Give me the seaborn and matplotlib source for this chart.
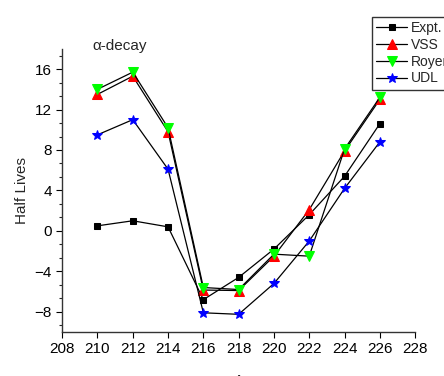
import pandas as pd
import matplotlib
matplotlib.use("Agg")
import matplotlib.pyplot as plt
import seaborn as sns
from matplotlib.ticker import MultipleLocator, AutoMinorLocator

# mass numbers
A = [210, 212, 214, 216, 218, 220, 222, 224, 226]

# log half lives
expt = [0.5, 1.0, 0.4, -6.8, -4.6, -1.8, 1.6, 5.4, 10.6]
vss = [13.5, 15.3, 9.8, -5.85, -5.9, -2.5, 2.1, 7.9, 13.0]
royer = [14.0, 15.7, 10.2, -5.6, -5.8, -2.3, -2.5, 8.1, 13.2]
udl = [9.5, 11.0, 6.1, -8.1, -8.25, -5.2, -1.0, 4.2, 8.8]

series = [
    ("Expt.", expt, "s", "black", 5),
    ("VSS", vss, "^", "red", 6.5),
    ("Royer", royer, "v", "#00ff00", 6.5),
    ("UDL", udl, "*", "blue", 7),
]

sns.set_style("ticks")
plt.rcParams['font.family'] = ['Liberation Sans', 'DejaVu Sans']

fig = plt.figure(figsize=(4.44, 3.76), dpi=100)
ax = fig.add_axes([0.14, 0.117, 0.795, 0.753])

for name, vals, mk, col, ms in series:
    df = pd.DataFrame({"A": A, "val": vals})
    sns.lineplot(data=df, x="A", y="val", ax=ax, color="black", lw=0.9,
                 marker=mk, markersize=ms, markerfacecolor=col,
                 markeredgecolor=col, label=name)

ax.set_xlim(208, 228)
ax.set_ylim(-10, 18)
ax.xaxis.set_major_locator(MultipleLocator(2))
ax.yaxis.set_major_locator(MultipleLocator(4))
ax.yaxis.set_minor_locator(AutoMinorLocator(3))
ax.tick_params(axis="both", labelsize=11, direction="out", length=4, width=0.8, colors="black")
ax.tick_params(axis="y", which="minor", length=2.5, width=0.8)
for s in ["top", "right"]:
    ax.spines[s].set_visible(False)
for s in ["left", "bottom"]:
    ax.spines[s].set_color("#333333")
    ax.spines[s].set_linewidth(1.0)

ax.set_xlabel("A", fontsize=11, labelpad=13)
ax.set_ylabel("Half Lives", fontsize=11, labelpad=4)
ax.text(0.085, 1.01, "α-decay", transform=ax.transAxes, fontsize=11, va="center", ha="left")

leg = ax.legend(loc="upper left", bbox_to_anchor=(0.838, 0.955), bbox_transform=fig.transFigure,
                fontsize=10, frameon=True, fancybox=False, edgecolor="black",
                borderpad=0.3, labelspacing=0.2, handlelength=2.2, handletextpad=0.3,
                borderaxespad=0)
leg.get_frame().set_linewidth(1.0)

fig.savefig("out.png", dpi=100)
